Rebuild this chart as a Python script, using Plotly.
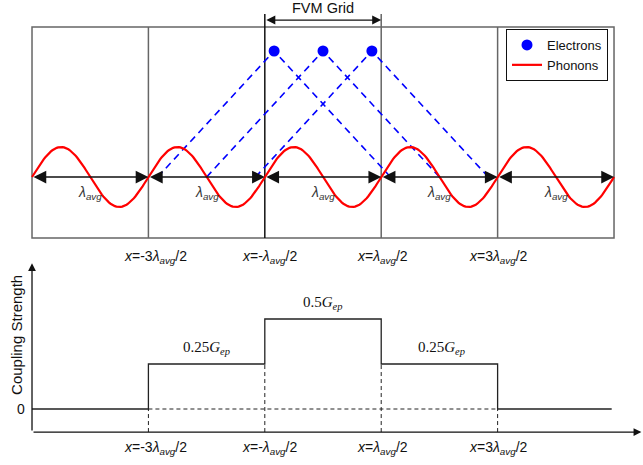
import numpy as np
import plotly.graph_objects as go

# ---------------- data ----------------
# cell boundaries (units of lambda_avg), FVM grid is the middle cell
cell_edges = [-2.5, -1.5, -0.5, 0.5, 1.5, 2.5]
cell_centers = [-2.0, -1.0, 0.0, 1.0, 2.0]
fvm_edges = [-0.5, 0.5]

# electrons (x positions, height) and their dashed coupling paths
electron_x = [-0.42, 0.0, 0.42]
electron_y = [4.2, 4.2, 4.2]
reach = 1.0  # electrons couple one lambda_avg to each side

# phonon wave parameters (one full wavelength per cell)
phonon_wavelength = 1.0
phonon_amplitude = 1.0
phonon_start, phonon_end = -2.5, 2.5

# coupling strength step function (in units of G_ep)
step_x = [-2.5, -1.5, -0.5, 0.5, 1.5, 2.48]
step_y = [0.0, 0.25, 0.5, 0.25, 0.0, 0.0]
step_labels = ["0.25", "0.5", "0.25"]
step_label_x = [-1.0, 0.0, 1.02]
step_label_y = [0.25, 0.5, 0.25]

boundary_labels = ["-3", "-", "", "3"]
boundary_x = [-1.5, -0.5, 0.5, 1.5]
label_shift = [7, 5, 1, 1]

# ---------------- figure ----------------
FONT = "Arial, Liberation Sans, sans-serif"
SERIF = "Times New Roman, Liberation Serif, serif"
INK = "#111"
fig = go.Figure()

annotations = []


def arrow(x0, y0, x1, y1, yref, width, size, both=True):
    annotations.append(dict(
        x=x1, y=y1, ax=x0, ay=y0, xref="x", yref=yref, axref="x", ayref=yref,
        text="", showarrow=True, arrowhead=2, arrowside="end+start" if both else "end",
        arrowsize=size, arrowwidth=width, arrowcolor=INK, standoff=0, startstandoff=0))


# dashed electron paths
for xe, ye in zip(electron_x, electron_y):
    fig.add_trace(go.Scatter(
        x=[xe - reach, xe, xe + reach], y=[0, ye, 0], mode="lines",
        line=dict(color="#0000FF", width=1.6, dash="7px,5px"),
        showlegend=False, hoverinfo="skip", yaxis="y"))

# phonon wave
px = np.linspace(phonon_start, phonon_end, 401)
py = phonon_amplitude * np.sin(2 * np.pi * (px - phonon_start) / phonon_wavelength)
fig.add_trace(go.Scatter(
    x=px, y=py, mode="lines", name="Phonons",
    line=dict(color="#FF0000", width=2.2), yaxis="y"))

# electrons
fig.add_trace(go.Scatter(
    x=electron_x, y=electron_y, mode="markers", name="Electrons",
    marker=dict(color="#0000FF", size=11), yaxis="y"))

# step function
fig.add_trace(go.Scatter(
    x=step_x, y=step_y, mode="lines", line=dict(color="#222", width=1.3, shape="hv"),
    showlegend=False, hoverinfo="skip", yaxis="y2"))

# double-headed lambda arrows along the axis
for a, b in zip(cell_edges[:-1], cell_edges[1:]):
    arrow(a, 0, b, 0, "y", 1.7, 1.5)
# FVM grid arrow
arrow(fvm_edges[0], 5.23, fvm_edges[1], 5.23, "y", 1.2, 1.5)
# bottom axes with arrows
arrow(-2.5, -0.128, -2.5, 0.81, "y2", 1.3, 1.2, both=False)
arrow(-2.5, -0.128, 2.735, -0.128, "y2", 1.3, 1.2, both=False)

shapes = []
# top panel box
shapes.append(dict(type="rect", xref="x", yref="y", x0=-2.5, x1=2.5, y0=-2.03, y1=5.0,
                   line=dict(color="#666", width=1.5), layer="below"))
for xb in cell_edges[1:-1]:
    top = 5.43 if xb in fvm_edges else 5.0
    col = "#111" if xb == -0.5 else "#666"
    shapes.append(dict(type="line", xref="x", yref="y", x0=xb, x1=xb, y0=-2.03, y1=top,
                       line=dict(color=col, width=1.5), layer="below"))
# bottom panel dashed guides
shapes.append(dict(type="line", xref="x", yref="y2", x0=-1.5, x1=1.5, y0=0, y1=0,
                   line=dict(color="#222", width=1, dash="4px,3px")))
for xb, yl in zip(boundary_x, [0.0, 0.25, 0.25, 0.0]):
    shapes.append(dict(type="line", xref="x", yref="y2", x0=xb, x1=xb, y0=-0.128, y1=yl,
                       line=dict(color="#222", width=1, dash="4px,3px")))

for xc in cell_centers:
    annotations.append(dict(x=xc, y=-0.53, xref="x", yref="y", showarrow=False,
                            text="<i>λ</i><sub><i>avg</i></sub>",
                            font=dict(family=FONT, size=14, color="#333")))
annotations.append(dict(x=0.0, y=5.63, xref="x", yref="y", showarrow=False, text="FVM Grid",
                        font=dict(family=FONT, size=14.5, color=INK)))
# boundary labels (top and bottom)
for lab, xb, sh in zip(boundary_labels, boundary_x, label_shift):
    txt = "<i>x</i>=" + lab + "<i>λ</i><sub><i>avg</i></sub>/2"
    for yy, yr in [(-2.67, "y"), (-0.217, "y2")]:
        annotations.append(dict(x=xb, y=yy, xref="x", yref=yr, showarrow=False, text=txt,
                                xshift=sh, font=dict(family=FONT, size=14, color=INK)))
# step labels
for lab, lx, ly in zip(step_labels, step_label_x, step_label_y):
    annotations.append(dict(x=lx, y=ly, xref="x", yref="y2", yanchor="bottom", yshift=5,
                            showarrow=False,
                            text=lab + "<i>G</i><sub><i>ep</i></sub>",
                            font=dict(family=SERIF, size=15, color=INK)))
annotations.append(dict(x=-2.5, y=0, xref="x", yref="y2", xanchor="right", xshift=-5,
                        showarrow=False, text="0", font=dict(family=FONT, size=14, color=INK)))
annotations.append(dict(x=-2.64, y=0.41, xref="x", yref="y2", showarrow=False,
                        text="Coupling Strength", textangle=-90,
                        font=dict(family=FONT, size=15, color=INK)))

fig.update_layout(
    width=643, height=465, margin=dict(l=0, r=0, t=0, b=0),
    paper_bgcolor="white", plot_bgcolor="white",
    xaxis=dict(range=[-2.775, 2.749], visible=False, domain=[0, 1]),
    yaxis=dict(range=[-9.6, 5.9], visible=False, domain=[0, 1]),
    yaxis2=dict(range=[-0.3111, 2.2722], visible=False, overlaying="y", domain=[0, 1]),
    shapes=shapes, annotations=annotations,
    legend=dict(x=506 / 643, y=1 - 29 / 465, xanchor="left", yanchor="top",
                bgcolor="white", bordercolor=INK, borderwidth=1,
                font=dict(family=FONT, size=13, color=INK),
                tracegroupgap=0, itemwidth=30, traceorder="reversed"),
    showlegend=True,
)

fig.write_html("out.html")
